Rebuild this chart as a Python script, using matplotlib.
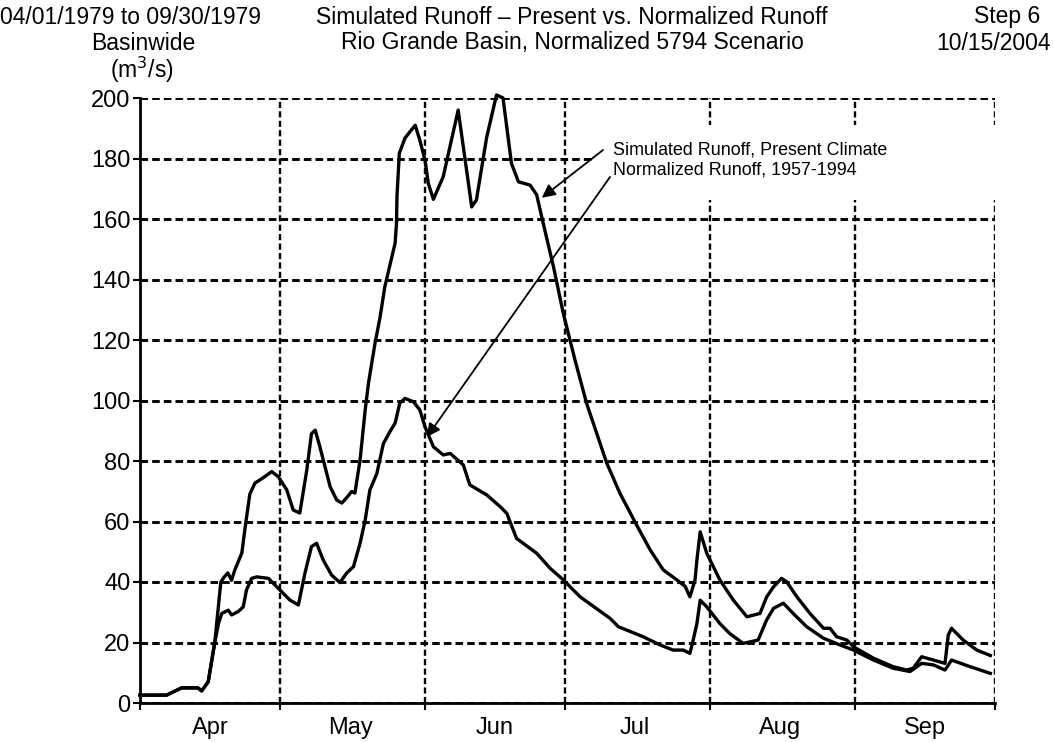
import numpy as np
import pandas as pd
import matplotlib
matplotlib.use('Agg')
import matplotlib.pyplot as plt
import matplotlib.dates as mdates
from matplotlib.patches import Rectangle

plt.rcParams['font.family'] = ['Liberation Sans', 'DejaVu Sans']

##### DATA ######
start = pd.Timestamp('1979-04-01')

# Simulated runoff, present climate (day offset from 04/01, m3/s)
sim_days = [0, 5.7, 8.9, 12.4, 13.2, 14.6, 16.0, 17.3, 18.0, 18.8, 19.6, 20.3, 21.8, 22.5, 23.5,
            24.6, 26.3, 28.2, 29.6, 31.4, 32.8, 34.2, 35.7, 36.7, 37.5, 38.5, 40.7, 42.1, 43.2,
            44.2, 45.3, 46.0, 47.1, 48.2, 48.9, 50.3, 51.4, 52.4, 54.6, 54.9, 55.0, 55.5, 56.7,
            57.8, 58.9, 59.9, 61.0, 61.7, 62.8, 64.9, 68.1, 71.0, 72.0, 74.2, 76.3, 77.7, 79.5,
            81.0, 83.5, 84.9, 86.3, 88.5, 90.6, 93.1, 95.6, 99.9, 102.7, 106.3, 109.2, 112.0,
            114.9, 116.7, 117.7, 118.8, 119.2, 119.9, 121.3, 124.1, 127.0, 129.9, 132.7, 134.1,
            135.6, 137.3, 138.4, 140.6, 143.4, 146.3, 147.7, 149.1, 151.3, 152.7, 157.0, 161.2,
            164.1, 165.5, 167.3, 169.8, 172.3, 173.0, 173.7, 176.2, 179.1, 182.0]
sim_vals = [2.6, 2.6, 5.0, 5.0, 4.0, 7.0, 20.0, 40.0, 41.6, 43.0, 40.6, 44.0, 49.6, 58.0, 69.0,
            72.7, 74.4, 76.5, 74.8, 70.5, 63.8, 62.8, 77.0, 89.0, 90.2, 84.7, 71.5, 67.1, 66.1,
            67.8, 69.9, 69.4, 80.3, 96.9, 105.7, 118.9, 127.7, 137.6, 152.0, 158.6, 167.4, 181.7,
            186.7, 188.9, 191.0, 186.0, 179.5, 171.8, 166.5, 174.0, 196.0, 164.0, 166.3, 187.0,
            201.0, 200.0, 178.4, 172.3, 171.2, 168.0, 158.6, 144.2, 128.8, 113.4, 99.0, 79.3,
            69.4, 58.8, 50.6, 44.0, 40.7, 38.5, 35.1, 40.7, 47.3, 56.6, 49.5, 40.7, 34.0, 28.5,
            29.6, 35.0, 38.4, 41.2, 40.1, 35.1, 29.6, 24.7, 24.7, 21.9, 20.8, 18.6, 14.8, 12.0,
            10.9, 11.5, 15.3, 14.2, 13.1, 22.5, 24.7, 20.8, 17.5, 15.7]

# Normalized runoff, 1957-1994
norm_days = [0, 5.7, 8.9, 12.4, 13.2, 14.6, 16.0, 16.8, 17.5, 18.9, 19.6, 21.0, 22.1, 22.8,
             23.9, 25.0, 27.5, 29.6, 32.1, 33.9, 35.3, 36.7, 37.8, 39.2, 41.0, 42.8, 44.2, 45.7,
             47.1, 48.2, 49.2, 50.7, 52.1, 53.5, 54.6, 55.6, 56.7, 58.5, 59.9, 61.0, 62.8, 64.9,
             66.4, 69.2, 70.6, 74.2, 77.1, 78.5, 80.6, 84.9, 87.8, 90.6, 94.2, 100.6, 102.4,
             107.7, 111.3, 114.1, 116.3, 117.7, 118.4, 119.2, 119.9, 121.3, 124.1, 126.2, 129.1,
             132.3, 134.1, 135.6, 137.7, 139.8, 142.7, 146.3, 149.8, 152.7, 157.0, 161.2, 164.8,
             167.3, 169.8, 172.3, 173.7, 177.7, 182.0]
norm_vals = [2.6, 2.6, 5.0, 5.0, 4.0, 7.0, 20.0, 26.3, 29.6, 30.7, 29.1, 30.2, 31.8, 37.4,
             41.2, 41.7, 41.2, 37.9, 34.0, 32.4, 42.9, 51.7, 52.8, 47.3, 42.3, 39.8, 42.9, 45.1,
             52.8, 60.5, 70.4, 75.9, 85.8, 89.7, 92.5, 99.1, 100.7, 99.6, 96.9, 91.3, 84.7, 82.0,
             82.5, 78.7, 72.1, 68.8, 64.9, 62.7, 54.4, 49.5, 44.5, 40.7, 35.1, 28.0, 25.2, 21.9,
             19.2, 17.5, 17.5, 16.4, 20.8, 26.3, 34.0, 31.8, 26.3, 23.0, 19.7, 20.8, 27.4, 31.3,
             33.0, 29.6, 25.2, 21.4, 19.2, 17.5, 14.2, 11.5, 10.4, 13.1, 12.6, 10.9, 14.2, 12.0,
             9.8]

y_ticks = [0, 20, 40, 60, 80, 100, 120, 140, 160, 180, 200]
month_labels = ['Apr', 'May', 'Jun', 'Jul', 'Aug', 'Sep']


###### PLOT ######
def plot():
	fig = plt.figure(figsize=(10.53, 7.42), dpi=100)
	ax = fig.add_axes([140 / 1053, 1 - 703 / 742, 855 / 1053, 605 / 742])

	sim_x = start + pd.to_timedelta(sim_days, unit='D')
	norm_x = start + pd.to_timedelta(norm_days, unit='D')

	ax.plot(sim_x, sim_vals, color='black', lw=2.4, zorder=3, clip_on=False)
	ax.plot(norm_x, norm_vals, color='black', lw=2.4, zorder=3, clip_on=False)

	ax.set_xlim(start, pd.Timestamp('1979-10-01'))
	ax.set_ylim(0, 200)

	# grid
	ax.set_axisbelow(True)
	ax.xaxis.set_major_locator(mdates.MonthLocator())
	ax.xaxis.set_major_formatter(plt.NullFormatter())
	ax.xaxis.set_minor_locator(mdates.MonthLocator(bymonthday=16))
	ax.xaxis.set_minor_formatter(plt.FixedFormatter(month_labels))
	ax.set_yticks(y_ticks)
	ax.grid(axis='y', color='black', linestyle=(0, (2.6, 1.4)), lw=2.1)
	ax.grid(axis='x', color='black', linestyle=(0, (2.6, 1.4)), lw=1.7)

	ax.tick_params(axis='x', which='major', length=5, width=1.5, direction='out')
	ax.tick_params(axis='x', which='minor', length=0, labelsize=17, pad=10)
	ax.tick_params(axis='y', length=5, width=1.5, labelsize=17, pad=2)

	for s in ['top', 'right']:
		ax.spines[s].set_visible(False)
	for s in ['left', 'bottom']:
		ax.spines[s].set_linewidth(2.0)

	# white box behind the annotation text
	box = Rectangle((595 / 1053, 1 - 200 / 742), 420 / 1053, 75 / 742, transform=fig.transFigure,
	                facecolor='white', edgecolor='none', zorder=1)
	ax.add_patch(box)

	d = lambda n: start + pd.Timedelta(days=n)
	ax.text(d(101.2), 182.8, 'Simulated Runoff, Present Climate', fontsize=12.9, va='center', zorder=4)
	ax.text(d(101.2), 176.2, 'Normalized Runoff, 1957-1994', fontsize=12.9, va='center', zorder=4)
	arrow = dict(arrowstyle='-|>', color='black', lw=1.3, mutation_scale=20, shrinkA=0, shrinkB=0)
	ax.annotate('', xy=(d(86.0), 167.0), xytext=(d(99.1), 182.8), arrowprops=arrow, zorder=4)
	ax.annotate('', xy=(d(61.4), 87.9), xytext=(d(100.6), 173.9), arrowprops=arrow, zorder=4)

	# header
	fs = 16.5
	fig.text(131 / 1053, 1 - 17 / 742, '04/01/1979 to 09/30/1979', ha='center', va='center', fontsize=fs)
	fig.text(143 / 1053, 1 - 43 / 742, 'Basinwide', ha='center', va='center', fontsize=fs)
	fig.text(142 / 1053, 1 - 70 / 742, '(m$^3$/s)', ha='center', va='center', fontsize=fs)
	fig.text(572 / 1053, 1 - 17 / 742, 'Simulated Runoff \u2013 Present vs. Normalized Runoff',
	         ha='center', va='center', fontsize=fs)
	fig.text(572 / 1053, 1 - 43 / 742, 'Rio Grande Basin, Normalized 5794 Scenario',
	         ha='center', va='center', fontsize=fs)
	fig.text(1007 / 1053, 1 - 17 / 742, 'Step 6', ha='center', va='center', fontsize=fs)
	fig.text(1051 / 1053, 1 - 43 / 742, '10/15/2004', ha='right', va='center', fontsize=fs)

	fig.savefig('out.png', dpi=100)
	plt.close(fig)

plot()
